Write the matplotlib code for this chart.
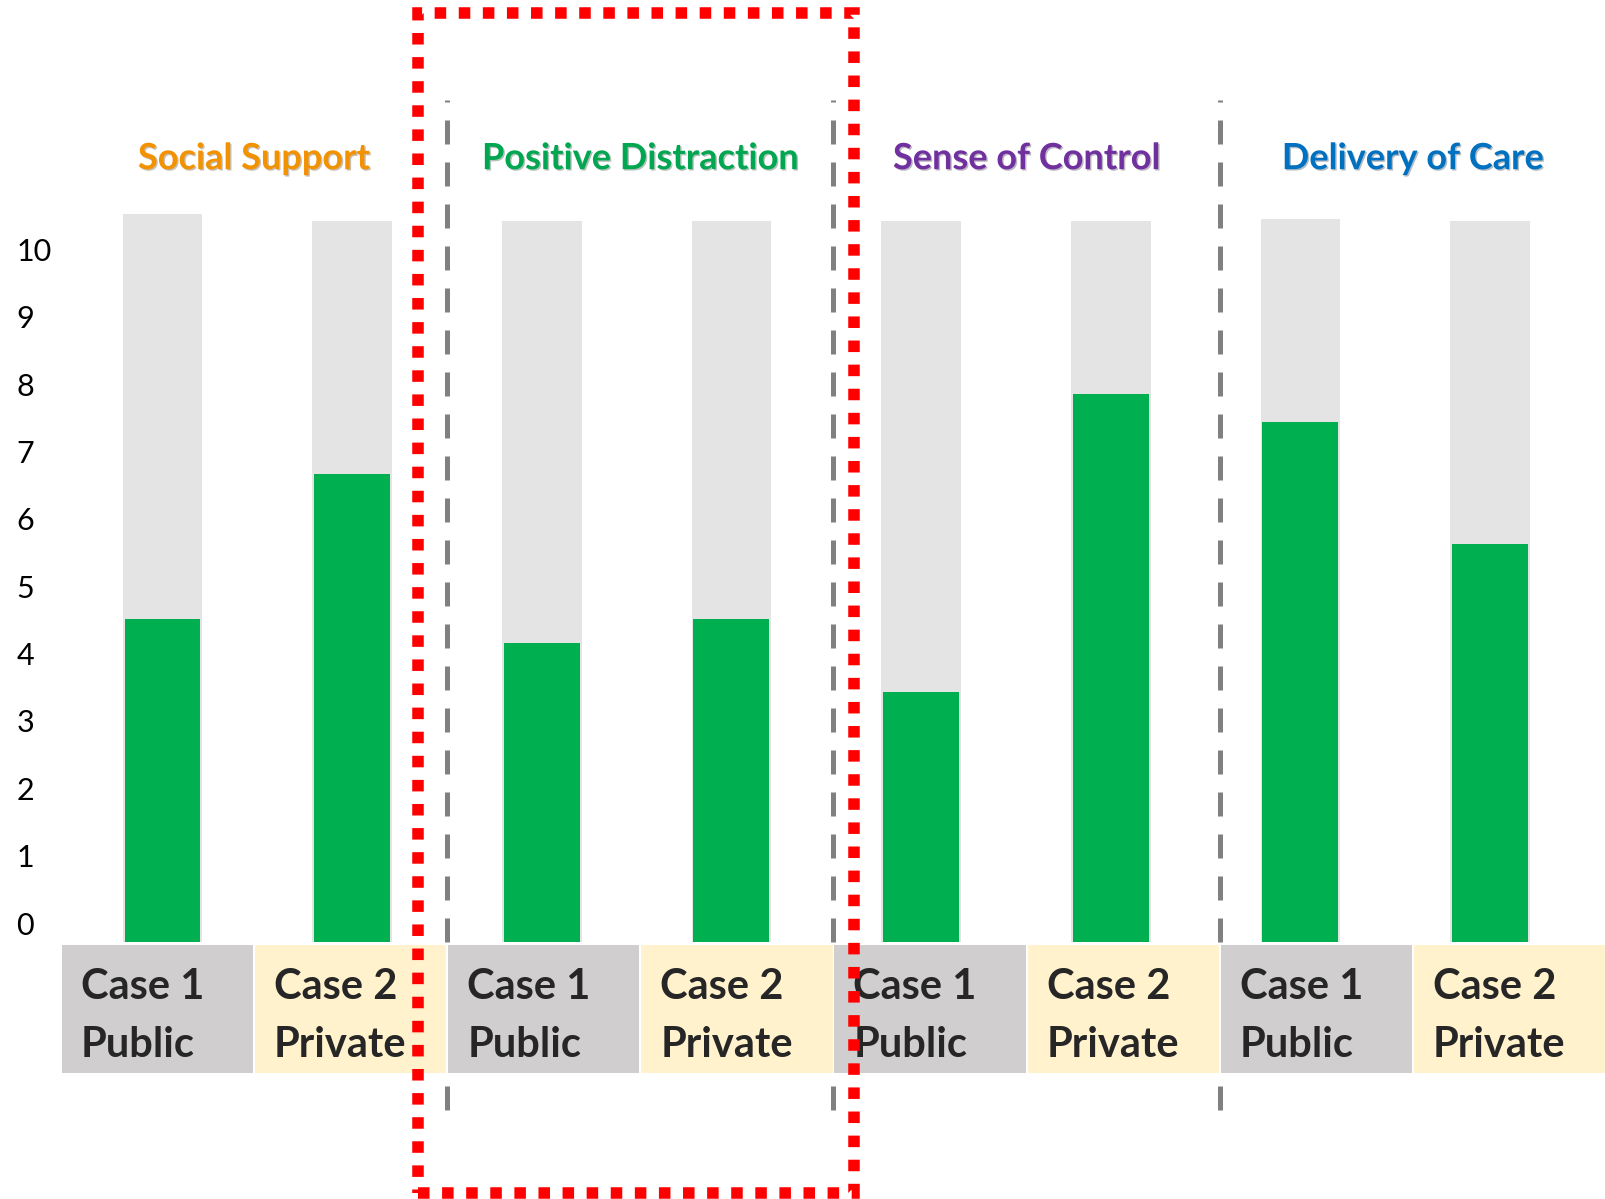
import matplotlib.pyplot as plt
import matplotlib.transforms as mtransforms
import matplotlib.patheffects as pe
from matplotlib.patches import Rectangle

plt.rcParams['font.family'] = ['Lato', 'DejaVu Sans']

# scores per dimension, two cases each
groups = ['Social Support', 'Positive Distraction', 'Sense of Control', 'Delivery of Care']
group_colors = ['#F39200', '#00A650', '#7030A0', '#0070C0']
case_top = ['Case 1', 'Case 2'] * 4
case_bottom = ['Public', 'Private'] * 4
scores = [4.52, 6.67, 4.15, 4.52, 3.43, 7.85, 7.44, 5.63]
scale_top = [10.52, 10.42, 10.42, 10.42, 10.42, 10.42, 10.45, 10.42]
yticks = list(range(0, 11))

base = -0.28

fig = plt.figure(figsize=(16.06, 11.99), dpi=100)

# bars
ax = fig.add_axes([0.04215, 0.21435, 0.94465, 0.78565])
ax.set_xlim(-0.5, 7.5)
ax.set_ylim(base, 13.7)
x = list(range(len(scores)))
ax.bar(x, [t - base for t in scale_top], bottom=base, width=0.42,
       color='#E4E4E4', zorder=1)
ax.bar(x, [s - base for s in scores], bottom=base, width=0.40,
       color='#00B050', zorder=2)

ax.set_xticks([])
ax.set_yticks(yticks)
ax.set_yticklabels([str(v) for v in yticks])
ax.tick_params(axis='y', length=0, pad=37, labelsize=22, labelcolor='black')
for lab_t in ax.get_yticklabels():
    lab_t.set_ha('left')
for s in ax.spines.values():
    s.set_visible(False)
ax.patch.set_alpha(0)

# category strip
lab = fig.add_axes([61 / 1606, 126 / 1199, 1545 / 1606, 128 / 1199])
lab.set_zorder(1)
lab.set_xlim(-0.5, 7.5)
lab.set_ylim(0, 1)
lab.bar(x, 1, bottom=0, width=0.99, color=['#D0CECE', '#FFF2CC'] * 4)
for i in x:
    left = i - 0.495 + 0.098
    lab.text(left, 0.578, case_top[i], ha='left', va='baseline',
             fontsize=30, fontweight='bold', color='#262626')
    lab.text(left, 0.125, case_bottom[i], ha='left', va='baseline',
             fontsize=30, fontweight='bold', color='#262626')
lab.set_xticks([])
lab.set_yticks([])
for s in lab.spines.values():
    s.set_visible(False)

# group titles
title_tr = mtransforms.blended_transform_factory(lab.transData, ax.transData)
for g, (name, col) in enumerate(zip(groups, group_colors)):
    ax.text(2 * g + 0.5, 11.19, name, transform=title_tr, ha='center',
            va='baseline', fontsize=26, fontweight='bold', color=col,
            path_effects=[pe.SimplePatchShadow(offset=(1, -1), alpha=0.3),
                          pe.Normal()])

# dashed separators between groups
sep_tr = mtransforms.blended_transform_factory(lab.transData, fig.transFigure)
for xs in [1.5, 3.5, 5.5]:
    ax.plot([xs, xs], [1 - 1110 / 1199, 1 - 100 / 1199], transform=sep_tr,
            color='#808080', lw=3.6, linestyle=(0, (4.8, 3.6)),
            clip_on=False, zorder=0)

# red highlight frame
fig.add_artist(Rectangle((0.26, 0.005), 0.5318 - 0.26, 0.98916 - 0.005,
                         transform=fig.transFigure, fill=False,
                         edgecolor='#FF0000', linewidth=8.3,
                         linestyle=(0, (1, 1.09)), zorder=10))

fig.savefig('out.png', dpi=100)
